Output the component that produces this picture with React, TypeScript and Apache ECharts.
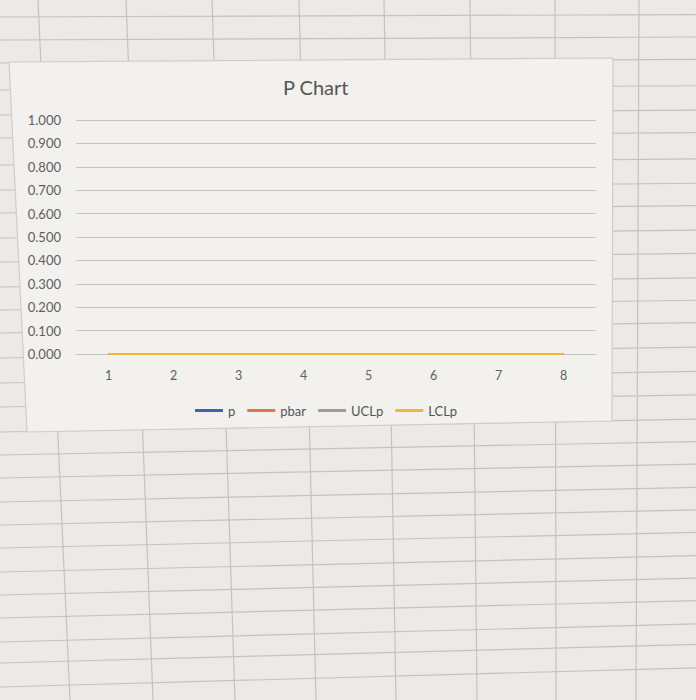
import React, { useEffect, useRef } from "react";
import * as echarts from "echarts";

// ---- chart data ----
const categories = ["1", "2", "3", "4", "5", "6", "7", "8"];
const pValues = [0, 0, 0, 0, 0, 0, 0, 0];
const pbarValues = [0, 0, 0, 0, 0, 0, 0, 0];
const uclValues = [0, 0, 0, 0, 0, 0, 0, 0];
const lclValues = [0, 0, 0, 0, 0, 0, 0, 0];
const seriesNames = ["p", "pbar", "UCLp", "LCLp"];
const seriesColors = ["#3f63b0", "#e0764a", "#9d9d9d", "#f2b43c"];

// ---- spreadsheet backdrop (decoration) ----
const colTopX = [38, 126, 212, 299, 384, 470, 555, 639];
const colBottomX = [70, 153, 235, 316, 396, 477, 556, 636];
const rowLeftY = [17, 40, 63, 90, 115, 138, 165, 190, 213, 238, 262, 287, 310, 333, 358, 383, 407, 432, 455, 478, 502, 525, 548, 572, 595, 618, 642, 663, 687];

export default function App() {
  const ref = useRef<HTMLDivElement>(null);
  useEffect(() => {
    if (!ref.current) return;
    const chart = echarts.init(ref.current, null, { renderer: "svg" });
    const lineStyle = { stroke: "#c4c2bf", lineWidth: 1.2 };
    const graphics: any[] = [];
    colTopX.forEach((x, i) => {
      graphics.push({
        type: "line",
        z: -10,
        shape: { x1: x, y1: 0, x2: colBottomX[i], y2: 700 },
        style: lineStyle,
        silent: true,
      });
    });
    rowLeftY.forEach((y) => {
      graphics.push({
        type: "line",
        z: -10,
        shape: { x1: 0, y1: y, x2: 696, y2: y - (2 + 0.025 * y) },
        style: lineStyle,
        silent: true,
      });
    });
    graphics.push({
      type: "polygon",
      z: -5,
      shape: { points: [[9, 62], [613, 58], [612, 421], [27, 432]] },
      style: { fill: "#f2f1ee", stroke: "#cfcdca", lineWidth: 1.2 },
      silent: true,
    });
    const dataSets = [pValues, pbarValues, uclValues, lclValues];
    chart.setOption({
      animation: false,
      backgroundColor: "#eceae7",
      graphic: { elements: graphics },
      title: {
        text: "P Chart",
        left: 278,
        top: 72,
        textStyle: { fontFamily: "Lato", fontSize: 20, fontWeight: "normal", color: "#555555" },
      },
      legend: {
        data: seriesNames,
        left: 190,
        top: 399,
        itemWidth: 28,
        itemHeight: 3,
        itemGap: 12,
        icon: "rect",
        textStyle: { fontFamily: "Lato", fontSize: 13, color: "#555555" },
      },
      grid: { left: 76, right: 100, top: 120, bottom: 346 },
      xAxis: {
        type: "category",
        data: categories,
        boundaryGap: true,
        axisLine: { show: true, lineStyle: { color: "#c6c4c1", width: 1 } },
        axisTick: { show: false },
        axisLabel: { fontFamily: "Lato", fontSize: 12.5, color: "#5e5e5e", margin: 15 },
      },
      yAxis: {
        type: "value",
        min: 0,
        max: 1,
        interval: 0.1,
        axisLine: { show: false },
        axisTick: { show: false },
        splitLine: { lineStyle: { color: "#c6c4c1", width: 1 } },
        axisLabel: {
          fontFamily: "Lato",
          fontSize: 13,
          color: "#5e5e5e",
          margin: 15,
          formatter: (v: number) => v.toFixed(3),
        },
      },
      series: seriesNames.map((name, i) => ({
        name,
        type: "line",
        data: dataSets[i],
        showSymbol: false,
        symbol: "none",
        color: seriesColors[i],
        lineStyle: { width: 2.2, color: seriesColors[i] },
      })),
    });
    return () => chart.dispose();
  }, []);
  return (
    <div
      ref={ref}
      style={{ position: "fixed", left: 0, top: 0, width: 696, height: 700 }}
    />
  );
}
